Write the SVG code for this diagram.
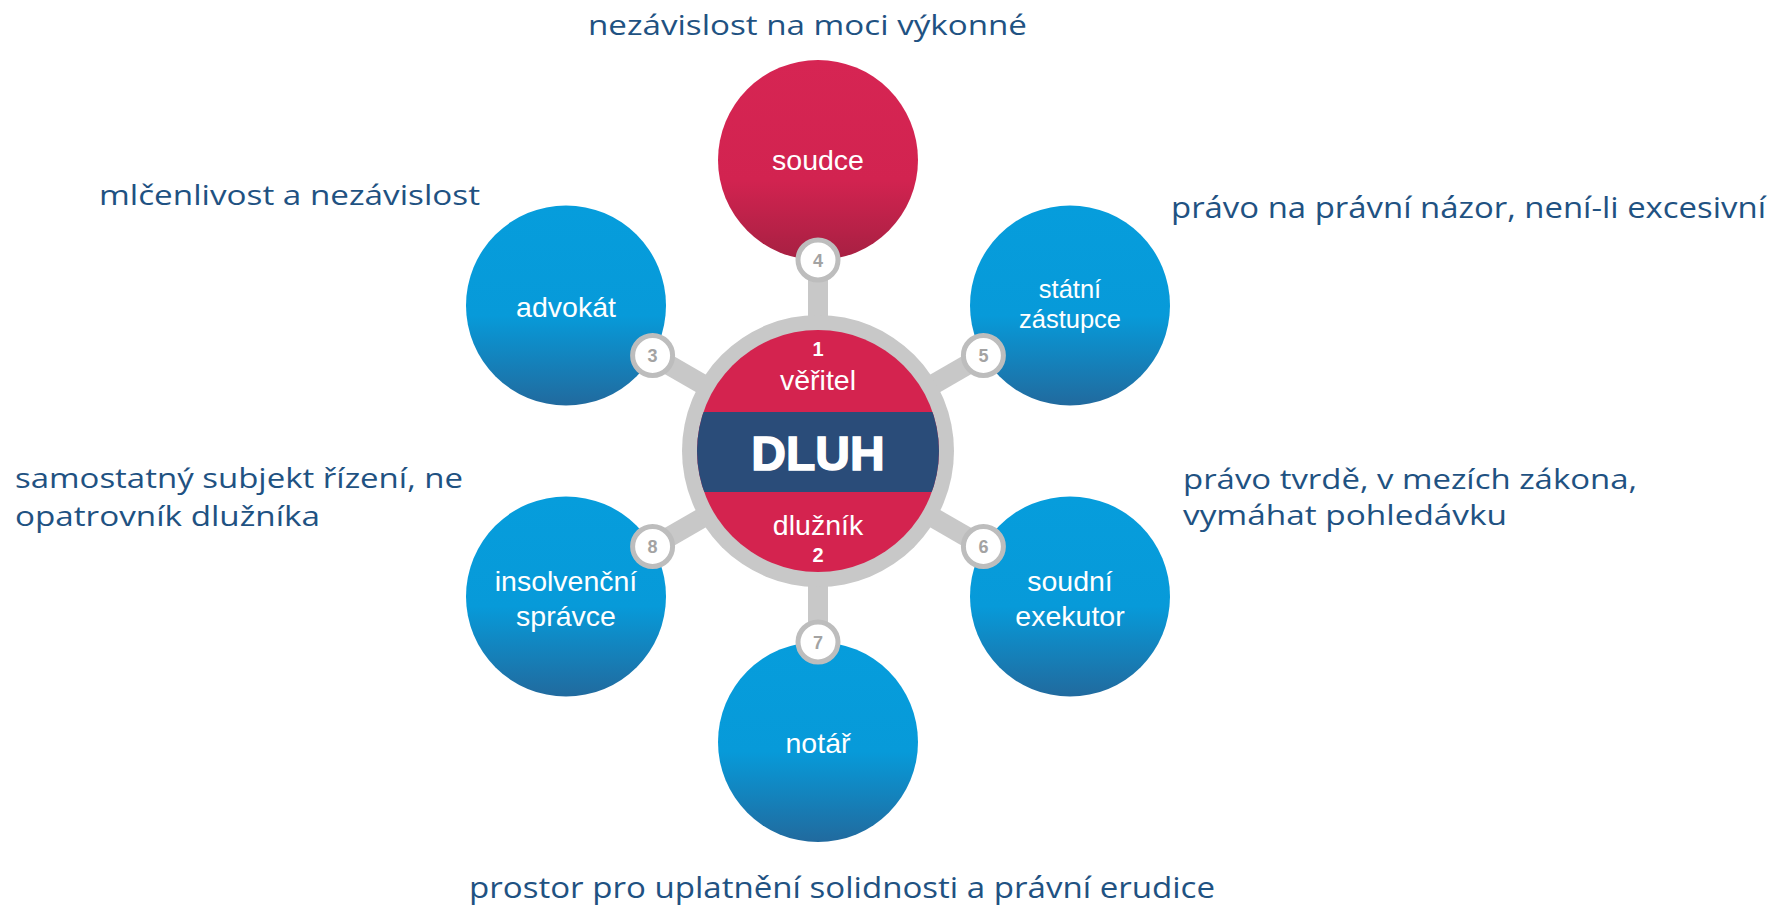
<svg xmlns="http://www.w3.org/2000/svg" width="1771" height="906" viewBox="0 0 1771 906">
<defs>
<linearGradient id="gBlue" x1="0" y1="0" x2="0" y2="1">
<stop offset="0" stop-color="#069ddc"/>
<stop offset="0.55" stop-color="#079ad9"/>
<stop offset="1" stop-color="#216a9e"/>
</linearGradient>
<linearGradient id="gRed" x1="0" y1="0" x2="0" y2="1">
<stop offset="0" stop-color="#d62553"/>
<stop offset="0.6" stop-color="#d22350"/>
<stop offset="1" stop-color="#a62042"/>
</linearGradient>
<clipPath id="clipCenter"><circle cx="818" cy="451" r="121"/></clipPath>
</defs>
<style>
.blue{fill:url(#gBlue)}
.red{fill:url(#gRed)}
.nt{font-family:"Liberation Sans",Arial,sans-serif;font-size:28.5px;fill:#ffffff;text-anchor:middle}
.nts{font-family:"Liberation Sans",Arial,sans-serif;font-size:25.5px;fill:#ffffff;text-anchor:middle}
.ann{font-family:"Open Sans","Noto Sans",sans-serif;font-size:28px;fill:#1f5282}
.ann2{font-family:"Open Sans","Noto Sans",sans-serif;font-size:30px;fill:#1f5282}
.bar{stroke:#c8c8c8;stroke-width:20;stroke-linecap:butt}
.badge{fill:#ffffff;stroke:#bdbdbd;stroke-width:5}
.bn{font-family:"Liberation Sans",Arial,sans-serif;font-size:18px;font-weight:bold;fill:#a3a3a3;text-anchor:middle}
.cn{font-family:"Liberation Sans",Arial,sans-serif;font-size:20px;font-weight:bold;fill:#ffffff;text-anchor:middle}
</style>
<rect width="1771" height="906" fill="#ffffff"/>

<g id="annotations">
<text class="ann" x="588" y="35" textLength="439" lengthAdjust="spacingAndGlyphs">nezávislost na moci výkonné</text>
<text class="ann" x="99" y="205" textLength="381" lengthAdjust="spacingAndGlyphs">mlčenlivost a nezávislost</text>
<text class="ann2" x="1171" y="218" textLength="595" lengthAdjust="spacingAndGlyphs">právo na právní názor, není-li excesivní</text>
<text class="ann" x="15" y="488" textLength="448" lengthAdjust="spacingAndGlyphs">samostatný subjekt řízení, ne</text>
<text class="ann" x="15" y="526" textLength="305" lengthAdjust="spacingAndGlyphs">opatrovník dlužníka</text>
<text class="ann" x="1183" y="489" textLength="454" lengthAdjust="spacingAndGlyphs">právo tvrdě, v mezích zákona,</text>
<text class="ann" x="1183" y="525" textLength="324" lengthAdjust="spacingAndGlyphs">vymáhat pohledávku</text>
<text class="ann2" x="469" y="898" textLength="746" lengthAdjust="spacingAndGlyphs">prostor pro uplatnění solidnosti a právní erudice</text>
</g>

<g id="node-soudce">
<circle class="red" cx="818" cy="160" r="100"/>
<text class="nt" x="818" y="170">soudce</text>
</g>
<g id="node-statni-zastupce">
<circle class="blue" cx="1070" cy="305.5" r="100"/>
<text class="nts" x="1070" y="298">státní</text>
<text class="nts" x="1070" y="328">zástupce</text>
</g>
<g id="node-soudni-exekutor">
<circle class="blue" cx="1070" cy="596.5" r="100"/>
<text class="nt" x="1070" y="591">soudní</text>
<text class="nt" x="1070" y="626">exekutor</text>
</g>
<g id="node-notar">
<circle class="blue" cx="818" cy="742" r="100"/>
<text class="nt" x="818" y="753">notář</text>
</g>
<g id="node-insolvencni-spravce">
<circle class="blue" cx="566" cy="596.5" r="100"/>
<text class="nt" x="566" y="591">insolvenční</text>
<text class="nt" x="566" y="626">správce</text>
</g>
<g id="node-advokat">
<circle class="blue" cx="566" cy="305.5" r="100"/>
<text class="nt" x="566" y="317">advokát</text>
</g>

<g id="connectors">
<line class="bar" x1="818" y1="451" x2="818" y2="260"/>
<line class="bar" x1="818" y1="451" x2="983.4" y2="355.5"/>
<line class="bar" x1="818" y1="451" x2="983.4" y2="546.5"/>
<line class="bar" x1="818" y1="451" x2="818" y2="642"/>
<line class="bar" x1="818" y1="451" x2="652.6" y2="546.5"/>
<line class="bar" x1="818" y1="451" x2="652.6" y2="355.5"/>
<circle class="badge" cx="818" cy="260" r="20"/>
<text class="bn" x="818" y="266.5">4</text>
<circle class="badge" cx="983.4" cy="355.5" r="20"/>
<text class="bn" x="983.4" y="362">5</text>
<circle class="badge" cx="983.4" cy="546.5" r="20"/>
<text class="bn" x="983.4" y="553">6</text>
<circle class="badge" cx="818" cy="642" r="20"/>
<text class="bn" x="818" y="648.5">7</text>
<circle class="badge" cx="652.6" cy="546.5" r="20"/>
<text class="bn" x="652.6" y="553">8</text>
<circle class="badge" cx="652.6" cy="355.5" r="20"/>
<text class="bn" x="652.6" y="362">3</text>
</g>

<g id="node-dluh">
<circle cx="818" cy="451" r="136" fill="#c8c8c8"/>
<circle cx="818" cy="451" r="121" fill="#d4234f"/>
<rect x="690" y="412" width="256" height="80" fill="#2a4c79" clip-path="url(#clipCenter)"/>
<text class="cn" x="818" y="356">1</text>
<text class="nt" x="818" y="390">věřitel</text>
<text x="818" y="470" font-family="Liberation Sans,Arial,sans-serif" font-size="48" font-weight="900" fill="#ffffff" text-anchor="middle" stroke="#ffffff" stroke-width="1.5">DLUH</text>
<text class="nt" x="818" y="535">dlužník</text>
<text class="cn" x="818" y="562">2</text>
</g>
</svg>
